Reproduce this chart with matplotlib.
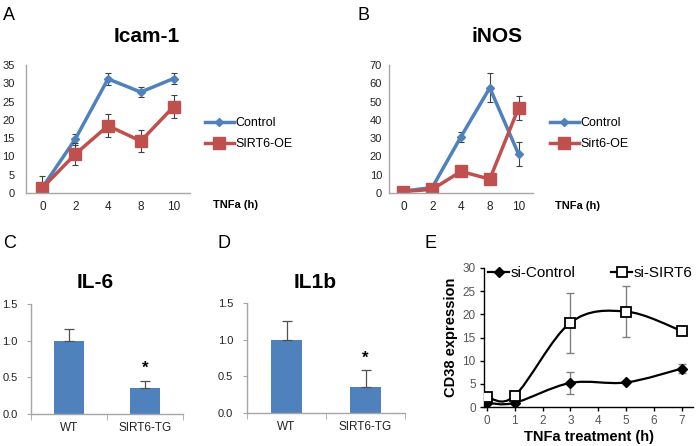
import numpy as np
import matplotlib
matplotlib.use("Agg")
import matplotlib.pyplot as plt
from matplotlib.path import Path
from matplotlib.patches import PathPatch
from matplotlib.lines import Line2D

plt.rcParams['font.family'] = ['Liberation Sans', 'DejaVu Sans']

# --- données ---
# A : Icam-1
a_labels = ["0", "2", "4", "8", "10"]
a_control = [1.5, 14.7, 31.2, 27.6, 31.3]
a_control_err = [0.5, 1.5, 1.6, 1.3, 1.4]
a_sirt6 = [1.4, 10.6, 18.4, 14.2, 23.6]
a_sirt6_err = [3.3, 3.0, 3.1, 3.0, 3.1]

# B : iNOS
b_labels = ["0", "2", "4", "8", "10"]
b_control = [1.0, 3.0, 30.8, 57.5, 21.2]
b_control_err = [0.5, 2.0, 2.8, 8.0, 6.5]
b_sirt6 = [0.8, 2.0, 11.8, 7.6, 46.5]
b_sirt6_err = [0.3, 0.5, 0.8, 0.8, 6.4]

# C / D : barres
bar_labels = ["WT", "SIRT6-TG"]
c_values = [1.0, 0.36]
c_err = [0.16, 0.095]
d_values = [1.0, 0.355]
d_err = [0.255, 0.225]

# E : CD38
e_time = [0, 1, 3, 5, 7]
e_control = [0.9, 0.9, 5.2, 5.3, 8.3]
e_control_err = [0.3, 0.3, 2.4, 0.0, 1.0]
e_sirt6 = [2.2, 2.4, 18.2, 20.6, 16.4]
e_sirt6_err = [0.3, 0.3, 6.5, 5.5, 0.0]

blue = "#4F81BD"
red = "#C0504D"
grey_axis = "#A6A6A6"

W, H = 696, 446
fig = plt.figure(figsize=(W / 100, H / 100), dpi=100)


def box(left, top, right, bottom):
    return [left / W, 1 - bottom / H, (right - left) / W, (bottom - top) / H]


def fx(x):
    return x / W


def fy(y):
    return 1 - y / H


def excel_axes(ax, ypad):
    for s in ["top", "right"]:
        ax.spines[s].set_visible(False)
    for s in ["left", "bottom"]:
        ax.spines[s].set_color(grey_axis)
        ax.spines[s].set_linewidth(1)
    ax.tick_params(axis="y", length=0, labelsize=8, pad=ypad, colors="#222222")
    ax.tick_params(axis="x", length=0, labelsize=8.5, pad=6, colors="#222222")


def line_panel(ax, labels, ctl, ctl_err, oe, oe_err, ymax, step, oe_name, legend_x, ypad):
    pos = np.arange(len(labels))
    ax.errorbar(pos, oe, yerr=oe_err, color=red, lw=2.5, marker="s", ms=8,
                ecolor="#404040", elinewidth=0.8, capsize=2.5, capthick=0.8, zorder=2)
    ax.errorbar(pos, ctl, yerr=ctl_err, color=blue, lw=2.5, marker="D", ms=4.5,
                ecolor="#404040", elinewidth=0.8, capsize=2.5, capthick=0.8, zorder=1)
    ax.set_xlim(-0.5, len(labels) - 0.5)
    ax.set_ylim(0, ymax)
    ax.set_yticks(np.arange(0, ymax + 1, step))
    ax.set_xticks(pos)
    ax.set_xticklabels(labels)
    excel_axes(ax, ypad)
    handles = [Line2D([], [], color=blue, lw=2.5, marker="D", ms=4.5),
               Line2D([], [], color=red, lw=2.5, marker="s", ms=8)]
    ax.legend(handles, ["Control", oe_name], frameon=False, loc="upper left",
              bbox_to_anchor=(fx(legend_x), fy(117)), bbox_transform=fig.transFigure,
              fontsize=9, handlelength=2.3, handletextpad=0.1, labelspacing=0.75,
              borderaxespad=0, borderpad=0)


# A
axA = fig.add_axes(box(26, 65, 190, 193))
line_panel(axA, a_labels, a_control, a_control_err, a_sirt6, a_sirt6_err, 35, 5,
           "SIRT6-OE", 205, 8)
fig.text(fx(147), fy(37), "Icam-1", ha="center", va="center", fontsize=15, fontweight="bold")
fig.text(fx(213), fy(205), "TNFa (h)", ha="left", va="center", fontsize=8, fontweight="bold")
fig.text(fx(3), fy(15), "A", ha="left", va="center", fontsize=13)

# B
axB = fig.add_axes(box(389, 65, 533, 193))
line_panel(axB, b_labels, b_control, b_control_err, b_sirt6, b_sirt6_err, 70, 10,
           "Sirt6-OE", 550, 5)
fig.text(fx(497), fy(37), "iNOS", ha="center", va="center", fontsize=15, fontweight="bold")
fig.text(fx(555), fy(206), "TNFa (h)", ha="left", va="center", fontsize=8, fontweight="bold")
fig.text(fx(357), fy(15), "B", ha="left", va="center", fontsize=13)


def bar_panel(ax, vals, err, title_x, title, ypad):
    pos = np.arange(len(bar_labels))
    ax.bar(pos, vals, width=0.4, color=blue, zorder=2)
    ax.errorbar(pos, vals, yerr=[np.zeros(len(vals)), err], fmt="none",
                ecolor="#505050", elinewidth=0.9, capsize=3.5, capthick=0.9, zorder=3)
    ax.set_xlim(-0.5, 1.5)
    ax.set_ylim(0, 1.5)
    ax.set_yticks([0, 0.5, 1.0, 1.5])
    ax.set_yticklabels(["0.0", "0.5", "1.0", "1.5"])
    ax.set_xticks(pos)
    ax.set_xticklabels(bar_labels)
    excel_axes(ax, ypad)
    ax.tick_params(axis="y", length=3, color=grey_axis)
    ax.set_xticks([-0.5, 0.5, 1.5], minor=True)
    ax.tick_params(axis="x", which="minor", length=4, color=grey_axis)
    # astérisque au-dessus de SIRT6-TG
    ax.text(1, vals[1] + err[1] + 0.06, "*", ha="center", va="bottom", fontsize=12,
            fontweight="bold")
    fig.text(fx(title_x), fy(282), title, ha="center", va="center", fontsize=15,
             fontweight="bold")


# C
axC = fig.add_axes(box(31, 304, 183, 414))
bar_panel(axC, c_values, c_err, 95, "IL-6", 6.5)
fig.text(fx(3), fy(243), "C", ha="left", va="center", fontsize=13)

# D
axD = fig.add_axes(box(247, 303, 405, 413))
bar_panel(axD, d_values, d_err, 315, "IL1b", 7)
fig.text(fx(217), fy(243), "D", ha="left", va="center", fontsize=13)


# E : courbes lissées (Bezier façon Excel)
def smooth_path(x, y):
    x = np.asarray(x, float)
    y = np.asarray(y, float)
    px = np.concatenate([[x[0]], x, [x[-1]]])
    py = np.concatenate([[y[0]], y, [y[-1]]])
    verts = [(x[0], y[0])]
    codes = [Path.MOVETO]
    for i in range(1, len(px) - 2):
        c1 = (px[i] + (px[i + 1] - px[i - 1]) / 6, py[i] + (py[i + 1] - py[i - 1]) / 6)
        c2 = (px[i + 1] - (px[i + 2] - px[i]) / 6, py[i + 1] - (py[i + 2] - py[i]) / 6)
        verts += [c1, c2, (px[i + 1], py[i + 1])]
        codes += [Path.CURVE4] * 3
    return Path(verts, codes)


axE = fig.add_axes(box(484, 268, 693, 407))
for yv, yerr in [(e_control, e_control_err), (e_sirt6, e_sirt6_err)]:
    axE.add_patch(PathPatch(smooth_path(e_time, yv), fill=False, lw=1.6, ec="black", zorder=2))
    axE.errorbar(e_time, yv, yerr=yerr, fmt="none", ecolor="#808080", elinewidth=1,
                 capsize=3, capthick=1, zorder=1)
axE.plot(e_time, e_control, ls="none", marker="D", ms=5, color="black", zorder=3)
axE.plot(e_time, e_sirt6, ls="none", marker="s", ms=7, mfc="white", mec="black",
         mew=1.3, zorder=3)
hc = Line2D([], [], color="black", lw=1.6, marker="D", ms=5)
hs = Line2D([], [], color="black", lw=1.6, marker="s", ms=7, mfc="white",
            mec="black", mew=1.3)
axE.legend([hc, hs], ["si-Control", "si-SIRT6"], ncol=2, frameon=False, loc="center left",
           bbox_to_anchor=(fx(488), fy(273)), bbox_transform=fig.transFigure,
           fontsize=11, handlelength=1.4, handletextpad=0.1, columnspacing=2.3,
           borderaxespad=0, borderpad=0)
axE.set_xlim(-0.1, 7.4)
axE.set_ylim(0, 30)
axE.set_xticks(range(0, 8))
axE.set_yticks(range(0, 31, 5))
for s in ["top", "right"]:
    axE.spines[s].set_visible(False)
for s in ["left", "bottom"]:
    axE.spines[s].set_linewidth(1)
axE.tick_params(length=3, width=1, labelsize=8.5, labelcolor="#555555", pad=3)
axE.set_xlabel("TNFa treatment (h)", fontsize=10.5, fontweight="bold", labelpad=2)
axE.set_ylabel("CD38 expression", fontsize=10.5, fontweight="bold", labelpad=3)
fig.text(fx(425), fy(243), "E", ha="left", va="center", fontsize=13)

fig.savefig("out.png", dpi=100)
